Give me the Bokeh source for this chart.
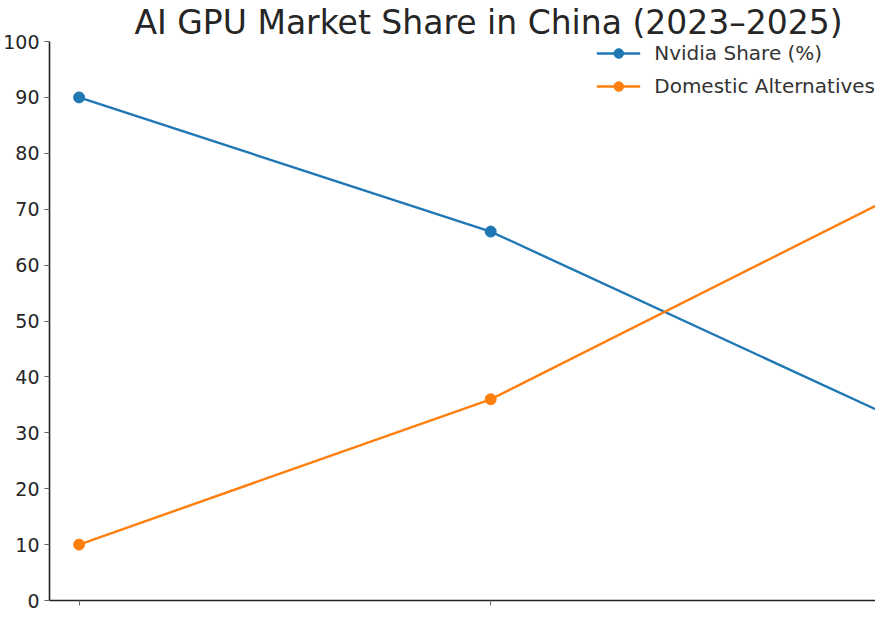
from bokeh.plotting import figure
from bokeh.models import Range1d, FixedTicker, Legend, LegendItem
from bokeh.embed import file_html
from bokeh.resources import INLINE

# ---- data ----
years = [2023, 2024, 2025]
nvidia_share = [90, 66, 32]
domestic_share = [10, 36, 73]
series_labels = ["Nvidia Share (%)", "Domestic Alternatives"]
y_ticks = [0, 10, 20, 30, 40, 50, 60, 70, 80, 90, 100]
title_text = "AI GPU Market Share in China (2023–2025)"

FONT = "DejaVu Sans"
BLUE = "#1f77b4"
ORANGE = "#ff7f0e"

p = figure(width=875, height=614, output_backend="svg", toolbar_location=None,
           x_range=Range1d(2022.928, 2024.935), y_range=Range1d(0, 100),
           min_border_left=44, min_border_right=0, min_border_top=0,
           min_border_bottom=14)

p.title.text = title_text
p.title.text_font = FONT
p.title.text_font_size = "33px"
p.title.text_font_style = "normal"
p.title.text_color = "#262626"
p.title.align = "left"
p.title.offset = 85
p.title.standoff = 0

p.xgrid.visible = False
p.ygrid.visible = False
p.outline_line_color = None
p.background_fill_color = "white"
p.border_fill_color = "white"

# y axis
p.yaxis.ticker = FixedTicker(ticks=y_ticks)
p.yaxis.major_label_text_font = FONT
p.yaxis.major_label_text_font_size = "19px"
p.yaxis.major_label_text_color = "#262626"
p.yaxis.axis_line_color = "#222222"
p.yaxis.axis_line_width = 1.6
p.yaxis.major_tick_line_color = "#666666"
p.yaxis.major_tick_out = 5
p.yaxis.major_tick_in = 0
p.yaxis.minor_tick_line_color = None
p.yaxis.major_label_standoff = 5

# x axis (tick labels fall outside the visible crop of the reference)
p.xaxis.ticker = FixedTicker(ticks=years)
p.xaxis.major_label_overrides = {y: "" for y in years}
p.xaxis.axis_line_color = "#222222"
p.xaxis.axis_line_width = 1.6
p.xaxis.major_tick_line_color = "#666666"
p.xaxis.major_tick_out = 5
p.xaxis.major_tick_in = 0
p.xaxis.minor_tick_line_color = None
p.xaxis.major_label_standoff = 0

r1 = p.line(years, nvidia_share, line_color=BLUE, line_width=2.4)
c1 = p.scatter(years, nvidia_share, size=11, fill_color=BLUE, line_color=BLUE)
r2 = p.line(years, domestic_share, line_color=ORANGE, line_width=2.4)
c2 = p.scatter(years, domestic_share, size=11, fill_color=ORANGE, line_color=ORANGE)

legend = Legend(items=[LegendItem(label=series_labels[0], renderers=[r1, c1]),
                       LegendItem(label=series_labels[1], renderers=[r2, c2])],
                location="top_right")
legend.border_line_color = None
legend.background_fill_alpha = 0
legend.label_text_font = FONT
legend.label_text_font_size = "20px"
legend.label_text_color = "#333333"
legend.glyph_width = 44
legend.glyph_height = 24
legend.label_height = 24
legend.spacing = 9
legend.label_standoff = 14
legend.padding = 0
legend.margin = 0
p.add_layout(legend)

open("out.html", "w").write(file_html(p, INLINE))
